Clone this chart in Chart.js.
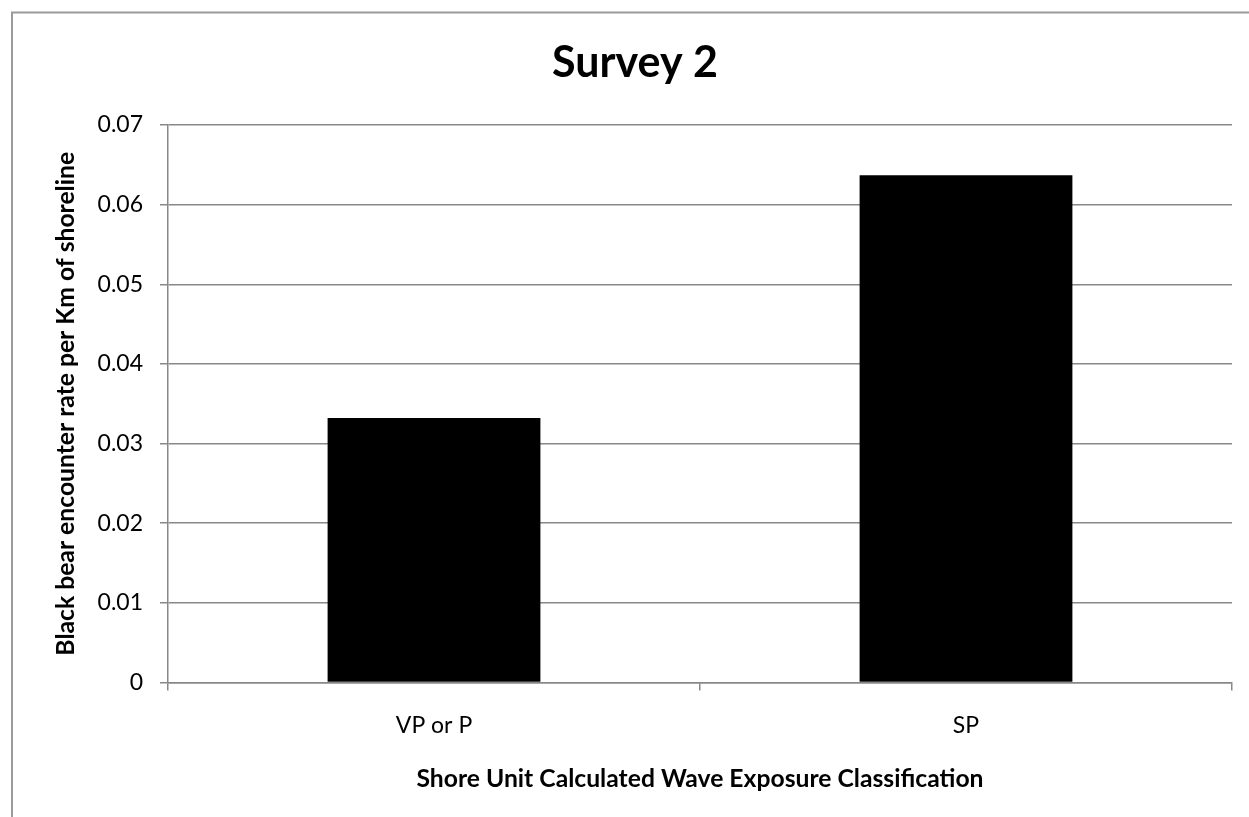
<!DOCTYPE html>
<html>
<head>
<meta charset="utf-8">
<title>Survey 2</title>
<script src="https://cdn.jsdelivr.net/npm/chart.js@4"></script>
<style>
  html, body { margin: 0; padding: 0; background: #ffffff; }
  canvas { display: block; }
</style>
</head>
<body>
<canvas id="chart" width="1249" height="817"></canvas>
<script>
// Wave exposure classes and black bear encounter rates (per km of shoreline)
const categories = ['VP or P', 'SP'];
const encounterRates = [0.0332, 0.0637];
const yTickValues = [0, 0.01, 0.02, 0.03, 0.04, 0.05, 0.06, 0.07];

const chartTitle = 'Survey 2';
const xAxisTitle = 'Shore Unit Calculated Wave Exposure Classification';
const yAxisTitle = 'Black bear encounter rate per Km of shoreline';

const FONT = 'Lato, "Open Sans", sans-serif';
const GRID = '#888888';

// Outer chart frame (left and top edges)
const framePlugin = {
  id: 'frame',
  beforeDraw(chart) {
    const ctx = chart.ctx;
    ctx.save();
    ctx.strokeStyle = '#9a9a9a';
    ctx.lineWidth = 2;
    ctx.beginPath();
    ctx.moveTo(12, chart.height);
    ctx.lineTo(12, 12.5);
    ctx.lineTo(chart.width, 12.5);
    ctx.stroke();
    ctx.restore();
  }
};

new Chart(document.getElementById('chart'), {
  type: 'bar',
  data: {
    labels: categories,
    datasets: [{
      data: encounterRates,
      backgroundColor: '#000000',
      borderWidth: 0,
      barPercentage: 0.4,
      categoryPercentage: 1.0
    }]
  },
  options: {
    responsive: false,
    animation: false,
    layout: { padding: { left: 38, right: 17, top: 0, bottom: 0 } },
    plugins: {
      legend: { display: false },
      tooltip: { enabled: false },
      title: {
        display: true,
        text: chartTitle,
        color: '#000000',
        font: { family: FONT, size: 43, weight: 'bold' },
        padding: { top: 37.4, bottom: 36 }
      }
    },
    scales: {
      x: {
        grid: {
          offset: true,
          drawOnChartArea: false,
          drawTicks: true,
          tickLength: 8,
          color: GRID,
          lineWidth: 1.5
        },
        border: { display: true, color: GRID, width: 1.5 },
        ticks: {
          color: '#000000',
          font: { family: FONT, size: 23 },
          padding: 21
        },
        title: {
          display: true,
          text: xAxisTitle,
          color: '#000000',
          font: { family: FONT, size: 24.7, weight: 'bold' },
          padding: { top: 0, bottom: 23.5 }
        },
        afterFit(scale) { scale.height = 134.5; }
      },
      y: {
        min: 0,
        max: 0.07,
        grid: {
          drawTicks: true,
          tickLength: 8,
          color: GRID,
          lineWidth: 1.5
        },
        border: { display: true, color: GRID, width: 1.5 },
        ticks: {
          color: '#000000',
          font: { family: FONT, size: 23 },
          padding: 17,
          callback: (v) => String(Number(v.toFixed(2)))
        },
        afterBuildTicks(scale) {
          scale.ticks = yTickValues.map(v => ({ value: v }));
        },
        title: {
          display: true,
          text: yAxisTitle,
          color: '#000000',
          font: { family: FONT, size: 24.7, weight: 'bold' },
          padding: { top: 12.8, bottom: 0 }
        },
        afterFit(scale) { scale.width = 130; }
      }
    }
  },
  plugins: [framePlugin]
});
</script>
</body>
</html>
